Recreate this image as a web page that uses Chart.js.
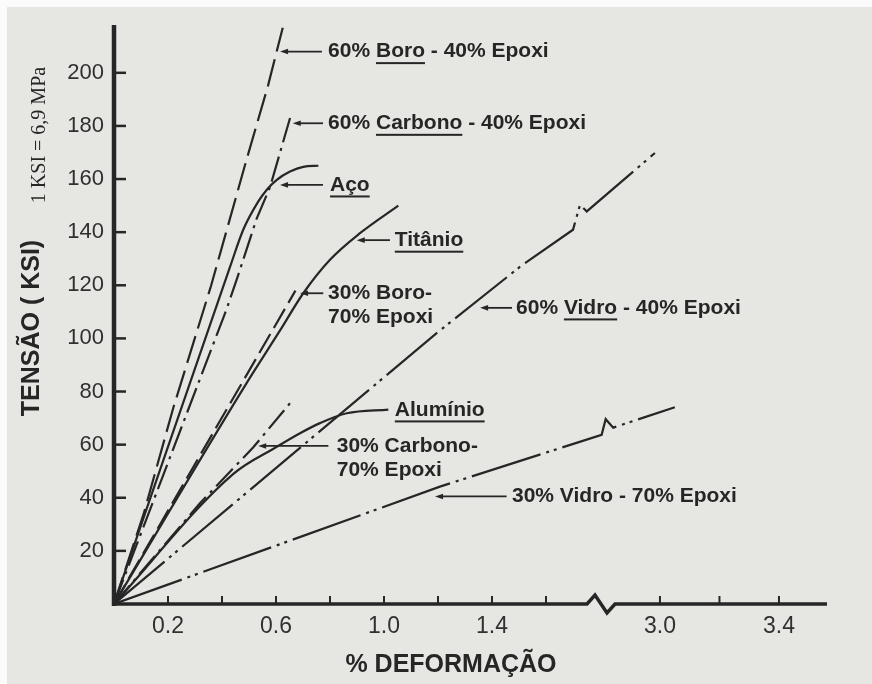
<!DOCTYPE html>
<html>
<head>
<meta charset="utf-8">
<title>Tensão x Deformação</title>
<script src="https://cdn.jsdelivr.net/npm/chart.js@4.4.1/dist/chart.umd.min.js"></script>
<style>
  html, body { margin: 0; padding: 0; background: #e6e6e3; overflow: hidden; }
  canvas { display: block; }
</style>
</head>
<body>
<canvas id="chart" width="872" height="684"></canvas>
<script>
const INK = '#262626';
const FONT = '"Liberation Sans", Arial, sans-serif';

// ticks
const X_TICKS = [0.2, 0.4, 0.6, 0.8, 1.0, 1.2, 1.4, 1.6, 3.0, 3.2, 3.4];
const X_LABELS = ['0.2', '', '0.6', '', '1.0', '', '1.4', '', '3.0', '', '3.4'];
const Y_TICKS = [20, 40, 60, 80, 100, 120, 140, 160, 180, 200];

// curves: [% deformação, tensão em KSI]
const boro60 = [[0, 0], [0.11, 34], [0.22, 74], [0.36, 120], [0.49, 167], [0.57, 195], [0.625, 217]];
const carbono60 = [[0, 0], [0.417, 111], [0.454, 122], [0.528, 145], [0.578, 157], [0.615, 170], [0.652, 183]];
const aco = [[0, 0], [0.43, 127], [0.479, 141], [0.534, 151.5], [0.566, 156], [0.603, 159.7],
             [0.652, 162.8], [0.701, 164.6], [0.757, 165]];
const titanio = [[0, 0], [0.49, 83], [0.615, 103], [0.701, 117], [0.8, 129.6], [0.911, 139.6], [1.053, 150]];
const boro30 = [[0, 0], [0.672, 118]];
const carbono30 = [[0, 0], [0.319, 38], [0.516, 59], [0.652, 75.6]];
const aluminio = [[0, 0], [0.442, 49], [0.603, 59.2], [0.689, 64.3], [0.763, 68.1], [0.862, 71.8], [1.016, 73.2]];
// the glass curves carry the little zig-zag of the broken axis
const vidro60 = [[0, 0], [1.195, 102], [1.504, 127], [1.70, 140.9], [1.726, 150.3], [2.754, 147.8], [2.983, 169.8]];
const vidro30 = [[0, 0], [1.207, 44.2], [1.806, 63.7], [1.821, 69.6], [2.843, 66.4], [3.05, 74.1]];

// broken x axis: values past the break are pulled left
const BREAK_AT = 2.2;
const AXIS_GAP = 1.80;   // where the zig-zag sits on the axis
const X_MAX = 2.6407;
function brk(x) {
  return x < BREAK_AT ? x : 2.022 + 1.102 * (x - 3);
}

function line(points, dash, curve) {
  return {
    data: points.map(p => ({ x: brk(p[0]), y: p[1] })),
    borderColor: INK,
    borderWidth: 2.2,
    borderDash: dash,
    borderCapStyle: 'butt',
    pointRadius: 0,
    tension: 0,
    cubicInterpolationMode: curve ? 'monotone' : 'default',
    fill: false
  };
}

// labels with arrows (x/tip/tail in % deformação, y in KSI)
const NOTES = [
  { text: ['60% Boro - 40% Epoxi'], under: 'Boro', x: 0.793, y: 208, tip: 0.615, tail: 0.770 },
  { text: ['60% Carbono - 40% Epoxi'], under: 'Carbono', x: 0.793, y: 181, tip: 0.662, tail: 0.774 },
  { text: ['Aço'], under: 'Aço', x: 0.80, y: 157.8, tip: 0.615, tail: 0.774 },
  { text: ['Titânio'], under: 'Titânio', x: 1.04, y: 137, tip: 0.899, tail: 1.022 },
  { text: ['30% Boro-', '70% Epoxi'], x: 0.793, y: 117, tip: 0.689, tail: 0.775 },
  { text: ['Alumínio'], under: 'Alumínio', x: 1.04, y: 73.1 },
  { text: ['30% Carbono-', '70% Epoxi'], x: 0.825, y: 59.5, tip: 0.534, tail: 0.794 },
  { text: ['60% Vidro - 40% Epoxi'], under: 'Vidro', x: 1.489, y: 111.5, tip: 1.356, tail: 1.474 },
  { text: ['30% Vidro - 70% Epoxi'], x: 1.474, y: 40.5, tip: 1.189, tail: 1.454 }
];

const paper = {
  id: 'paper',
  beforeDraw(chart) {
    const ctx = chart.ctx;
    ctx.save();
    ctx.fillStyle = '#e6e6e3';
    ctx.fillRect(0, 0, chart.width, chart.height);
    ctx.fillStyle = '#fbfbfb';
    ctx.fillRect(0, 0, chart.width, 7);
    ctx.fillRect(0, 0, 7, chart.height);
    ctx.restore();
  }
};

const axes = {
  id: 'axes',
  beforeDatasetsDraw(chart) {
    const ctx = chart.ctx;
    const xs = chart.scales.x, ys = chart.scales.y;
    const x0 = xs.getPixelForValue(0), y0 = ys.getPixelForValue(0);
    ctx.save();
    ctx.strokeStyle = INK;
    ctx.lineCap = 'butt';

    // y axis + inner ticks
    ctx.lineWidth = 4.5;
    ctx.beginPath();
    ctx.moveTo(x0, ys.getPixelForValue(ys.max));
    ctx.lineTo(x0, y0 + 2);
    ctx.stroke();
    ctx.lineWidth = 2.5;
    Y_TICKS.forEach(v => {
      const y = ys.getPixelForValue(v);
      ctx.beginPath();
      ctx.moveTo(x0, y);
      ctx.lineTo(x0 + 12, y);
      ctx.stroke();
    });

    // x axis with zig-zag
    const g = xs.getPixelForValue(AXIS_GAP);
    ctx.lineWidth = 3.5;
    ctx.lineJoin = 'miter';
    ctx.beginPath();
    ctx.moveTo(x0 - 2, y0);
    ctx.lineTo(g - 13, y0);
    ctx.lineTo(g - 5, y0 - 9);
    ctx.lineTo(g + 7, y0 + 9);
    ctx.lineTo(g + 15, y0);
    ctx.lineTo(xs.right, y0);
    ctx.stroke();
    ctx.lineWidth = 2;
    X_TICKS.forEach(v => {
      const x = xs.getPixelForValue(brk(v));
      ctx.beginPath();
      ctx.moveTo(x, y0);
      ctx.lineTo(x, y0 - 8);
      ctx.stroke();
    });
    ctx.restore();
  }
};

const notes = {
  id: 'notes',
  afterDatasetsDraw(chart) {
    const ctx = chart.ctx;
    const xs = chart.scales.x, ys = chart.scales.y;
    const size = 21;
    ctx.save();
    ctx.fillStyle = INK;
    ctx.strokeStyle = INK;
    ctx.font = 'bold ' + size + 'px ' + FONT;
    ctx.textBaseline = 'middle';
    ctx.textAlign = 'left';

    NOTES.forEach(n => {
      const px = xs.getPixelForValue(brk(n.x));
      const py = ys.getPixelForValue(n.y);
      n.text.forEach((t, i) => {
        ctx.fillText(t, px, py + i * 24);
      });
      if (n.under) {
        const t = n.text[0];
        const i = t.indexOf(n.under);
        const ux = px + ctx.measureText(t.slice(0, i)).width;
        ctx.fillRect(ux, py + size * 0.36 + 3, ctx.measureText(n.under).width, 2);
      }
      if (n.tip !== undefined) {
        const tx = xs.getPixelForValue(brk(n.tip));
        const ex = xs.getPixelForValue(brk(n.tail));
        ctx.lineWidth = 1.8;
        ctx.beginPath();
        ctx.moveTo(ex, py);
        ctx.lineTo(tx + 5, py);
        ctx.stroke();
        ctx.beginPath();
        ctx.moveTo(tx, py);
        ctx.lineTo(tx + 8, py - 2.8);
        ctx.lineTo(tx + 8, py + 2.8);
        ctx.closePath();
        ctx.fill();
      }
    });

    // axis titles
    ctx.textAlign = 'center';
    ctx.font = 'bold 25px ' + FONT;
    ctx.fillText('% DEFORMAÇÃO', 451, 665);

    ctx.save();
    ctx.translate(32, 328);
    ctx.rotate(-Math.PI / 2);
    ctx.fillText('TENSÃO ( KSI)', 0, 0);
    ctx.restore();

    ctx.save();
    ctx.translate(40, 135);
    ctx.rotate(-Math.PI / 2);
    ctx.font = '20px "Liberation Serif", "Times New Roman", serif';
    ctx.fillText('1 KSI = 6,9 MPa', 0, 0);
    ctx.restore();

    ctx.restore();
  }
};

new Chart(document.getElementById('chart'), {
  type: 'line',
  data: {
    datasets: [
      line(boro60, [28, 8], false),
      line(carbono60, [26, 6, 3, 6], false),
      line(aco, [], true),
      line(titanio, [], true),
      line(boro30, [22, 7], false),
      line(carbono30, [24, 6, 3, 6], false),
      line(aluminio, [], true),
      line(vidro60, [66, 6, 3, 5, 3, 6], false),
      line(vidro30, [72, 6, 3, 5, 3, 6], false)
    ]
  },
  options: {
    responsive: false,
    animation: false,
    layout: { padding: { top: 25, right: 45, left: 0, bottom: 0 } },
    plugins: {
      legend: { display: false },
      tooltip: { enabled: false }
    },
    scales: {
      x: {
        type: 'linear',
        min: 0,
        max: X_MAX,
        grid: { display: false, drawTicks: false },
        border: { display: false },
        afterBuildTicks: s => { s.ticks = X_TICKS.map(v => ({ value: brk(v) })); },
        afterFit: s => { s.height = 80; },
        ticks: {
          autoSkip: false,
          maxRotation: 0,
          padding: 9,
          color: '#303030',
          font: { family: FONT, size: 23 },
          callback: (v, i) => X_LABELS[i]
        }
      },
      y: {
        min: 0,
        max: 218,
        grid: { display: false, drawTicks: false },
        border: { display: false },
        afterBuildTicks: s => { s.ticks = Y_TICKS.map(v => ({ value: v })); },
        afterFit: s => { s.width = 114; },
        ticks: {
          padding: 10,
          color: '#303030',
          font: { family: FONT, size: 22 }
        }
      }
    }
  },
  plugins: [paper, axes, notes]
});
</script>
</body>
</html>
